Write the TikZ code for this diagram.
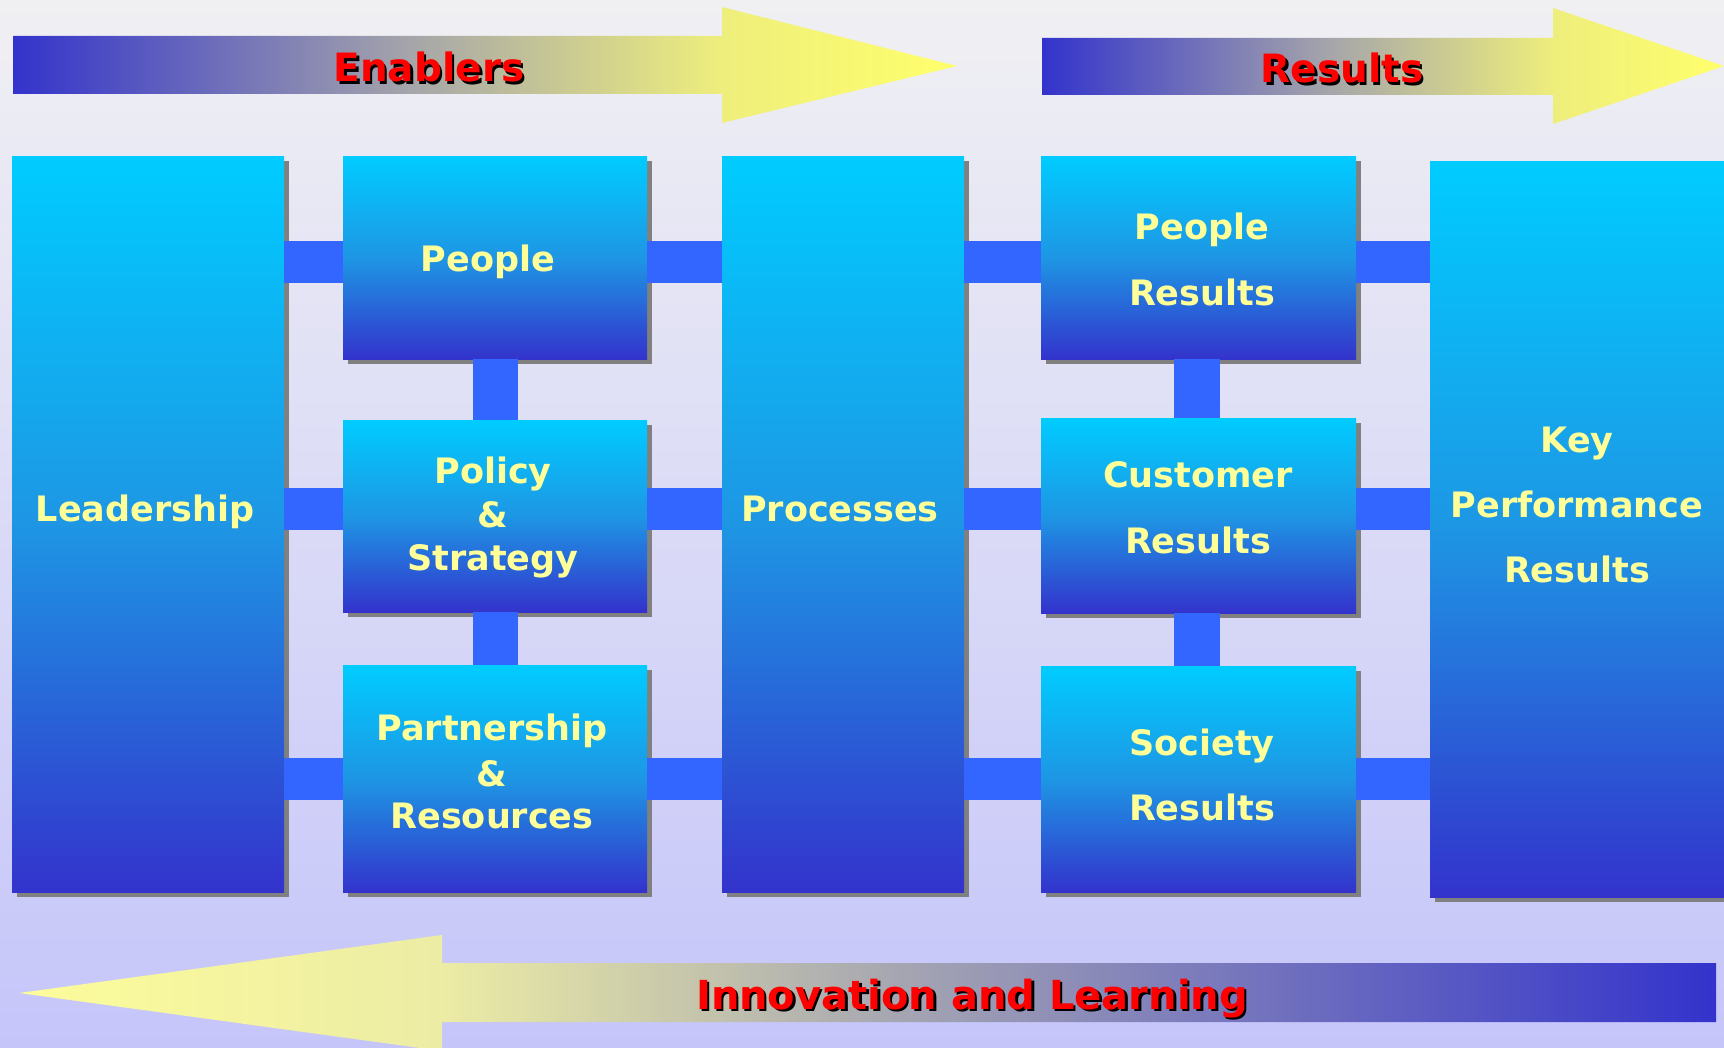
\documentclass[tikz,border=0pt]{standalone}
\usepackage{fontspec}
\usetikzlibrary{shadows}
\newfontfamily\dvb{DejaVu Sans}
\newcommand\lbfont{\dvb\bfseries\fontsize{35}{42}\selectfont}
\newcommand\arfont{\dvb\bfseries\fontsize{39}{46}\selectfont}
\newcommand\arfontB{\dvb\bfseries\fontsize{40}{48}\selectfont}
\definecolor{bgtop}{RGB}{240,240,243}
\definecolor{bgbot}{RGB}{197,197,250}
\definecolor{bxtop}{RGB}{0,204,255}
\definecolor{bxmid}{RGB}{30,150,228}
\definecolor{bxbot}{RGB}{51,51,204}
\definecolor{shgray}{RGB}{128,128,128}
\definecolor{conn}{RGB}{51,102,255}
\definecolor{txtyel}{RGB}{255,255,153}
\definecolor{txtsh}{RGB}{150,150,120}
\definecolor{redlab}{RGB}{255,0,0}
\pgfdeclarehorizontalshading{arrowR}{100bp}{%
  rgb(0bp)=(0.2,0.2,0.8); rgb(25bp)=(0.2,0.2,0.8);
  rgb(46bp)=(0.647,0.647,0.667);
  rgb(62.5bp)=(0.933,0.933,0.49);
  rgb(75bp)=(1,1,0.42); rgb(100bp)=(1,1,0.42)}
\pgfdeclarehorizontalshading{arrowL}{100bp}{%
  rgb(0bp)=(0.99,0.99,0.61); rgb(25bp)=(0.99,0.99,0.61);
  rgb(37.5bp)=(0.925,0.925,0.647);
  rgb(51bp)=(0.647,0.647,0.698);
  rgb(75bp)=(0.2,0.2,0.8); rgb(100bp)=(0.2,0.2,0.8)}
\tikzset{
  boxst/.style 2 args={rectangle, draw=none, inner sep=0pt, anchor=north west,
    minimum width=#1, minimum height=#2,
    top color=bxtop, bottom color=bxbot, middle color=bxmid,
    drop shadow={shadow xshift=5pt, shadow yshift=-5pt, fill=shgray, opacity=1}},
  lab/.style={font=\lbfont, text=txtyel, anchor=base, inner sep=0pt},
  arlab/.style={font=\arfont, text=redlab, anchor=base, inner sep=0pt},
  arlabsh/.style={font=\arfont, text=black, anchor=base, inner sep=0pt},
  connst/.style={fill=conn, draw=none},
}
\begin{document}
\begin{tikzpicture}[x=1pt, y=-1pt]
\useasboundingbox (0,0) rectangle (1724,1048);
% background
\shade[top color=bgtop, bottom color=bgbot] (0,0) rectangle (1724,1048);

% top arrows
\shade[shading=arrowR]
  (13,36) -- (722,36) -- (722,7) -- (957,66) -- (722,123) -- (722,94) -- (13,94) -- cycle;
\shade[shading=arrowR]
  (1042,38) -- (1553,38) -- (1553,8) -- (1724,66) -- (1553,124) -- (1553,95) -- (1042,95) -- cycle;
% bottom arrow
\shade[shading=arrowL]
  (1716,963) -- (442,963) -- (442,935) -- (19,993) -- (442,1051) -- (442,1022) -- (1716,1022) -- cycle;

\node[arlabsh] (enS) at (431.5,84.5) {Enablers};
\node[arlab] (en) at (429,82) {Enablers};
\node[arlabsh] (reS) at (1344.5,85.5) {Results};
\node[arlab] (re) at (1342,83) {Results};
\node[arlabsh, font=\arfontB] (ilS) at (974.5,1011.5) {Innovation and Learning};
\node[arlab, font=\arfontB] (il) at (972,1009) {Innovation and Learning};

% boxes
\node[boxst={272pt}{736pt}] (lead) at (12,156) {};
\node[boxst={304pt}{203pt}] (people) at (343,156) {};
\node[boxst={304pt}{192pt}] (policy) at (343,420) {};
\node[boxst={304pt}{227pt}] (partner) at (343,665) {};
\node[boxst={242pt}{736pt}] (proc) at (722,156) {};
\node[boxst={315pt}{203pt}] (pres) at (1041,156) {};
\node[boxst={315pt}{195pt}] (cres) at (1041,418) {};
\node[boxst={315pt}{226pt}] (sres) at (1041,666) {};
\node[boxst={310pt}{736pt}] (kpr) at (1430,161) {};

% connector rows
\coordinate (r1a) at (0,241); \coordinate (r1b) at (0,283);
\coordinate (r2a) at (0,488); \coordinate (r2b) at (0,530);
\coordinate (r3a) at (0,758); \coordinate (r3b) at (0,800);
\coordinate (vl1) at (473,0); \coordinate (vl2) at (518,0);
\coordinate (vr1) at (1174,0); \coordinate (vr2) at (1220,0);

\fill[connst] (lead.east |- r1a) rectangle (people.west |- r1b);
\fill[connst] (people.east |- r1a) rectangle (proc.west |- r1b);
\fill[connst] (proc.east |- r1a) rectangle (pres.west |- r1b);
\fill[connst] (pres.east |- r1a) rectangle (kpr.west |- r1b);

\fill[connst] (lead.east |- r2a) rectangle (policy.west |- r2b);
\fill[connst] (policy.east |- r2a) rectangle (proc.west |- r2b);
\fill[connst] (proc.east |- r2a) rectangle (cres.west |- r2b);
\fill[connst] (cres.east |- r2a) rectangle (kpr.west |- r2b);

\fill[connst] (lead.east |- r3a) rectangle (partner.west |- r3b);
\fill[connst] (partner.east |- r3a) rectangle (proc.west |- r3b);
\fill[connst] (proc.east |- r3a) rectangle (sres.west |- r3b);
\fill[connst] (sres.east |- r3a) rectangle (kpr.west |- r3b);

\fill[connst] (people.south -| vl1) rectangle (policy.north -| vl2);
\fill[connst] (policy.south -| vl1) rectangle (partner.north -| vl2);
\fill[connst] (pres.south -| vr1) rectangle (cres.north -| vr2);
\fill[connst] (cres.south -| vr1) rectangle (sres.north -| vr2);

% box labels
\node[lab] (tlead) at (145,521) {Leadership};
\node[lab] (tpeople) at (488,272) {People};
\node[lab] (tpol1) at (493,483) {Policy};
\node[lab] (tpol2) at (493,527) {\&};
\node[lab] (tpol3) at (493,570) {Strategy};
\node[lab] (tpar1) at (492,740) {Partnership};
\node[lab] (tpar2) at (492,786) {\&};
\node[lab] (tpar3) at (492,828) {Resources};
\node[lab] (tproc) at (840,521) {Processes};
\node[lab] (tpr1) at (1202,240) {People};
\node[lab] (tpr2) at (1202,306) {Results};
\node[lab] (tcr1) at (1198,487) {Customer};
\node[lab] (tcr2) at (1198,553) {Results};
\node[lab] (tsr1) at (1202,755) {Society};
\node[lab] (tsr2) at (1202,820) {Results};
\node[lab] (tk1) at (1577,452) {Key};
\node[lab] (tk2) at (1577,517) {Performance};
\node[lab] (tk3) at (1577,582) {Results};
\end{tikzpicture}
\end{document}
